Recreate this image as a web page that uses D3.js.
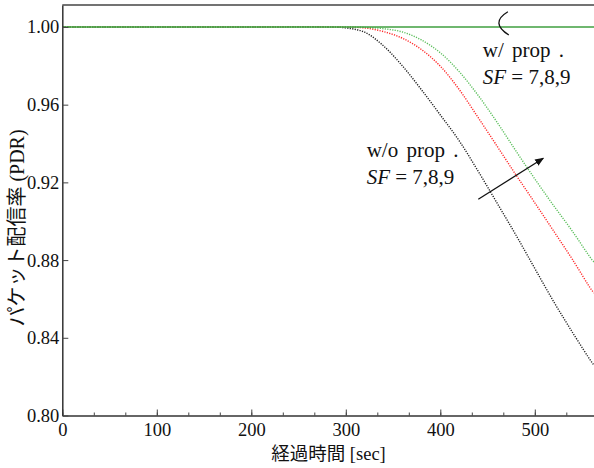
<!DOCTYPE html>
<html>
<head>
<meta charset="utf-8">
<script src="https://cdn.jsdelivr.net/npm/d3@7"></script>
<style>
body { margin: 0; background: #fff; }
text { font-family: "Liberation Serif", "Noto Sans CJK JP", serif; fill: #111; }
</style>
</head>
<body>
<svg id="chart" width="594" height="468"></svg>
<script>
// data (time in sec, PDR)
var times = [0, 100, 200, 280, 300, 320, 340, 360, 380, 400, 420, 440, 460, 480, 500, 520, 540, 560, 563];
var withProp = [1, 1, 1, 1, 1, 1, 1, 1, 1, 1, 1, 1, 1, 1, 1, 1, 1, 1, 1];
var sf7 = [1, 1, 1, 1, 0.9995, 0.9973, 0.9902, 0.9799, 0.9677, 0.9547, 0.9414, 0.9258, 0.9094, 0.8929, 0.8757, 0.8586, 0.8427, 0.8276, 0.8257];
var sf8 = [1, 1, 1, 1, 0.9999, 0.9995, 0.9976, 0.9942, 0.9884, 0.9798, 0.9678, 0.9534, 0.9387, 0.9239, 0.9095, 0.8949, 0.8802, 0.8647, 0.8630];
var sf9 = [1, 1, 1, 1, 1, 0.9998, 0.9991, 0.9974, 0.9933, 0.9867, 0.9770, 0.9648, 0.9510, 0.9362, 0.9218, 0.9080, 0.8947, 0.8805, 0.8789];
var xTicks = [0, 100, 200, 300, 400, 500];
var yTicks = [0.80, 0.84, 0.88, 0.92, 0.96, 1.00];

var plotL = 62.3, plotT = 5, plotR = 629.3, plotB = 415.5;

var svg = d3.select("#chart");

var x = d3.scaleLinear().domain([0, 600]).range([plotL, plotR]);
var y = d3.scaleLinear().domain([0.8, 1.0113]).range([plotB, plotT]);

svg.append("clipPath").attr("id", "clip")
  .append("rect").attr("x", plotL).attr("y", plotT).attr("width", plotR - plotL).attr("height", plotB - plotT);

// curves
var line = d3.line()
  .x(function(d) { return x(d[0]); })
  .y(function(d) { return y(d[1]); })
  .curve(d3.curveCatmullRom.alpha(0.5));

function pairs(vals) {
  return times.map(function(t, i) { return [t, vals[i]]; });
}

var series = [
  { vals: sf7, color: "#222", dash: "1.2,1.3", width: 1.4 },
  { vals: sf8, color: "#ff2a2a", dash: "1.2,1.3", width: 1.4 },
  { vals: sf9, color: "#5cbf5c", dash: "1.2,1.3", width: 1.4 },
  { vals: withProp, color: "#3f9f3f", dash: null, width: 1.6 }
];

svg.append("g").attr("clip-path", "url(#clip)")
  .selectAll("path")
  .data(series)
  .enter()
  .append("path")
  .attr("d", function(d) { return line(pairs(d.vals)); })
  .attr("fill", "none")
  .attr("stroke", function(d) { return d.color; })
  .attr("stroke-width", function(d) { return d.width; })
  .attr("stroke-dasharray", function(d) { return d.dash; });

// frame
svg.append("line")
  .attr("x1", plotL).attr("x2", 594).attr("y1", plotT).attr("y2", plotT)
  .attr("stroke", "#444").attr("stroke-width", 1.5);

var xAxis = d3.axisBottom(x).tickValues(xTicks).tickSizeInner(-6).tickSizeOuter(0).tickPadding(7);
var xMinor = d3.axisBottom(x).tickValues(d3.range(0, 600, 100 / 3)).tickSizeInner(-3).tickSizeOuter(0).tickFormat("");
var yAxis = d3.axisLeft(y).tickValues(yTicks).tickSizeInner(-6).tickSizeOuter(0).tickPadding(3).tickFormat(d3.format(".2f"));

svg.append("g").attr("transform", "translate(0," + plotB + ")").call(xMinor)
  .call(function(g) { g.select(".domain").remove(); g.selectAll("line").attr("stroke", "#444"); });

var gx = svg.append("g").attr("transform", "translate(0," + plotB + ")").call(xAxis);
var gy = svg.append("g").attr("transform", "translate(" + plotL + ",0)").call(yAxis);

[gx, gy].forEach(function(g) {
  g.select(".domain").attr("stroke", "#333").attr("stroke-width", 1.5);
  g.selectAll(".tick line").attr("stroke", "#444");
  g.selectAll(".tick text").style("font-size", "18.5px").style("font-family", "Liberation Serif").attr("fill", "#111");
});
gx.selectAll(".tick text").attr("dy", "0.71em");

// axis titles
svg.append("text")
  .attr("x", 328.5).attr("y", 460)
  .attr("text-anchor", "middle")
  .style("font-size", "18.5px")
  .text("経過時間 [sec]");

svg.append("text")
  .attr("transform", "translate(24,228) rotate(-90)")
  .attr("text-anchor", "middle")
  .style("font-size", "20px")
  .text("パケット配信率 (PDR)");

// annotations
function note(tx, py, label) {
  var t = svg.append("text").attr("x", x(tx)).attr("y", y(py)).style("font-size", "21px");
  t.append("tspan").style("word-spacing", "3px").text(label);
  var l2 = t.append("tspan").attr("x", x(tx)).attr("dy", 27);
  l2.append("tspan").style("font-style", "italic").text("SF");
  l2.append("tspan").text(" = 7,8,9");
}
note(444.9, 0.98456, "w/ prop .");
note(322.1, 0.93323, "w/o prop .");

// bracket on the w/ prop line
svg.append("path")
  .attr("d", "M" + x(471.5) + "," + y(1.0078) + " Q" + x(452) + "," + y(1.0021) + " " + x(472.5) + "," + y(0.99588))
  .attr("fill", "none").attr("stroke", "#111").attr("stroke-width", 1.3);

// arrow across the w/o prop curves
svg.append("defs").append("marker")
  .attr("id", "head").attr("viewBox", "0 0 10 10").attr("refX", 9).attr("refY", 5)
  .attr("markerWidth", 9).attr("markerHeight", 9).attr("markerUnits", "userSpaceOnUse").attr("orient", "auto")
  .append("path").attr("d", "M0,1 L10,5 L0,9 Z").attr("fill", "#111");

svg.append("line")
  .attr("x1", x(440.2)).attr("y1", y(0.9113))
  .attr("x2", x(509)).attr("y2", y(0.9324))
  .attr("stroke", "#111").attr("stroke-width", 1.3)
  .attr("marker-end", "url(#head)");
</script>
</body>
</html>
